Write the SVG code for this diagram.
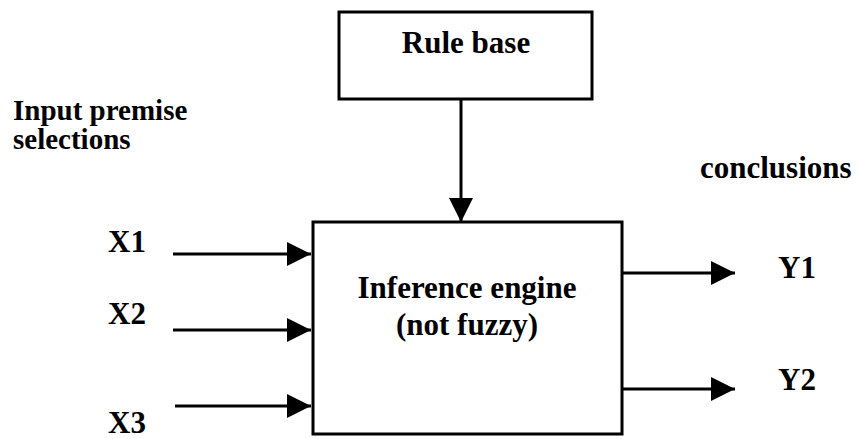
<svg xmlns="http://www.w3.org/2000/svg" width="858" height="439" viewBox="0 0 858 439">
  <style>
    .box { fill: #fff; stroke: #000; stroke-width: 3; }
    .lbl { font-family: "Liberation Serif", "Times New Roman", serif; font-weight: bold; font-size: 31px; fill: #000; }
    .small { font-size: 29px; }
    .mid { text-anchor: middle; }
    .wire { stroke: #000; stroke-width: 3; fill: none; }
  </style>
  <defs>
    <marker id="head" viewBox="0 0 24 24" refX="24" refY="12" markerWidth="24" markerHeight="24" markerUnits="userSpaceOnUse" orient="auto">
      <path d="M0,0 L24,12 L0,24 Z" fill="#000"/>
    </marker>
  </defs>
  <rect width="858" height="439" fill="#fff"/>

  <g id="rule-base">
    <rect class="box" x="339" y="12" width="253" height="87"/>
    <text class="lbl mid" x="466" y="53">Rule base</text>
  </g>

  <g id="inference-engine">
    <rect class="box" x="313" y="222" width="309" height="212"/>
    <text class="lbl mid" x="467" y="298">Inference engine</text>
    <text class="lbl mid" x="467" y="335">(not fuzzy)</text>
  </g>

  <g id="labels">
    <text class="lbl small" x="13" y="120">Input premise</text>
    <text class="lbl small" x="13" y="149">selections</text>
    <text class="lbl" x="700" y="178">conclusions</text>
    <text class="lbl" x="108" y="252">X1</text>
    <text class="lbl" x="108" y="324">X2</text>
    <text class="lbl" x="108" y="433">X3</text>
    <text class="lbl" x="778" y="278">Y1</text>
    <text class="lbl" x="778" y="390">Y2</text>
  </g>

  <g id="connectors">
    <line class="wire" x1="461" y1="99" x2="461" y2="222" marker-end="url(#head)"/>
    <line class="wire" x1="173" y1="254" x2="311" y2="254" marker-end="url(#head)"/>
    <line class="wire" x1="173" y1="330" x2="311" y2="330" marker-end="url(#head)"/>
    <line class="wire" x1="175" y1="406" x2="311" y2="406" marker-end="url(#head)"/>
    <line class="wire" x1="622" y1="273" x2="735" y2="273" marker-end="url(#head)"/>
    <line class="wire" x1="622" y1="389" x2="735" y2="389" marker-end="url(#head)"/>
  </g>
</svg>
